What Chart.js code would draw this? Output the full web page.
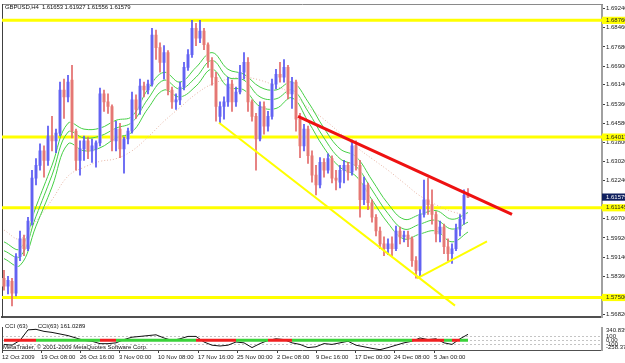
<!DOCTYPE html>
<html><head><meta charset="utf-8">
<script src="https://cdn.jsdelivr.net/npm/chart.js@4.4.1/dist/chart.umd.min.js"></script>
<style>
html,body{margin:0;padding:0;background:#fff;width:625px;height:363px;overflow:hidden;position:relative;font-family:"Liberation Sans",Arial,sans-serif}
#c1{position:absolute;left:0;top:0;width:625px;height:322px}
#c2{position:absolute;left:0;top:320px;width:625px;height:43px}
.t{position:absolute;font-size:6px;color:#111;white-space:nowrap;line-height:1}
</style></head><body>
<canvas id="c1" width="625" height="322"></canvas>
<canvas id="c2" width="625" height="43"></canvas>
<div class="t" style="left:5px;top:4px;letter-spacing:-0.1px">GBPUSD,H4&nbsp;&nbsp;1.61653 1.61927 1.61556 1.61579</div>
<div class="t" style="left:5px;top:323px">CCI (63)&nbsp;&nbsp;&nbsp;&nbsp;&nbsp;&nbsp;CCI(63) 161.0289</div>
<div class="t" style="left:3px;top:344px">MetaTrader, © 2001-2009 MetaQuotes Software Corp.</div>
<script>
// ---------- DATA ----------
const barOpen = [
1.5828,1.5796,1.5816,1.5768,1.5916,1.5988,1.5948,1.6060,1.6235,1.6287,
1.6346,1.6307,1.6406,1.6386,1.6418,1.6593,1.6565,1.6633,1.6426,1.6307,
1.6354,1.6386,1.6346,1.6354,1.6378,1.6577,1.6545,1.6526,1.6386,1.6434,
1.6354,1.6394,1.6426,1.6553,1.6514,1.6609,1.6593,1.6617,1.6816,1.6765,
1.6705,1.6745,1.6593,1.6545,1.6553,1.6605,1.6685,1.6737,1.6844,1.6804,
1.6832,1.6777,1.6713,1.6645,1.6486,1.6526,1.6545,1.6617,1.6545,1.6585,
1.6665,1.6705,1.6545,1.6486,1.6394,1.6526,1.6446,1.6486,1.6617,1.6657,
1.6645,1.6685,1.6577,1.6625,1.6474,1.6366,1.6434,1.6326,1.6247,1.6207,
1.6299,1.6267,1.6314,1.6235,1.6219,1.6267,1.6287,1.6259,1.6366,1.6287,
1.6147,1.6207,1.6135,1.6076,1.6020,1.5968,1.5948,1.5968,1.5948,1.6020,
1.5996,1.6004,1.5988,1.5900,1.5860,1.6087,1.6147,1.6127,1.6087,1.6008,
1.6036,1.5956,1.5928,1.5948,1.6028,1.6068,1.61653];
const barHigh = [
1.5860,1.5836,1.5828,1.5928,1.6020,1.6004,1.6076,1.6267,1.6314,1.6374,
1.6366,1.6446,1.6486,1.6434,1.6625,1.6637,1.6653,1.6693,1.6434,1.6386,
1.6406,1.6402,1.6394,1.6386,1.6601,1.6593,1.6577,1.6533,1.6466,1.6458,
1.6402,1.6438,1.6585,1.6573,1.6637,1.6625,1.6633,1.6844,1.6836,1.6785,
1.6773,1.6753,1.6605,1.6577,1.6625,1.6705,1.6757,1.6876,1.6864,1.6876,
1.6844,1.6785,1.6725,1.6665,1.6545,1.6565,1.6645,1.6633,1.6605,1.6693,
1.6745,1.6725,1.6553,1.6498,1.6545,1.6545,1.6506,1.6637,1.6677,1.6705,
1.6717,1.6693,1.6645,1.6633,1.6498,1.6454,1.6446,1.6346,1.6287,1.6318,
1.6314,1.6334,1.6326,1.6267,1.6287,1.6307,1.6299,1.6390,1.6386,1.6307,
1.6239,1.6215,1.6147,1.6087,1.6036,1.5996,1.5988,1.5996,1.6040,1.6036,
1.6020,1.6020,1.5996,1.5916,1.6107,1.6227,1.6235,1.6187,1.6099,1.6060,
1.6048,1.5988,1.5968,1.6048,1.6087,1.6187,1.61927];
const barLow = [
1.5780,1.5764,1.5716,1.5756,1.5900,1.5920,1.5940,1.6044,1.6207,1.6267,
1.6239,1.6287,1.6346,1.6338,1.6406,1.6478,1.6545,1.6398,1.6267,1.6247,
1.6307,1.6314,1.6299,1.6279,1.6366,1.6506,1.6498,1.6346,1.6346,1.6318,
1.6255,1.6374,1.6418,1.6478,1.6494,1.6565,1.6577,1.6609,1.6717,1.6665,
1.6637,1.6573,1.6518,1.6514,1.6533,1.6593,1.6673,1.6725,1.6773,1.6785,
1.6757,1.6685,1.6613,1.6466,1.6458,1.6474,1.6526,1.6506,1.6526,1.6577,
1.6637,1.6506,1.6466,1.6267,1.6386,1.6414,1.6426,1.6474,1.6597,1.6625,
1.6625,1.6557,1.6518,1.6426,1.6318,1.6346,1.6295,1.6219,1.6167,1.6195,
1.6239,1.6255,1.6215,1.6187,1.6195,1.6215,1.6227,1.6247,1.6267,1.6076,
1.6127,1.6107,1.6056,1.6000,1.5948,1.5920,1.5924,1.5920,1.5940,1.5968,
1.5976,1.5956,1.5876,1.5828,1.5836,1.6076,1.6087,1.6048,1.5976,1.5976,
1.5928,1.5900,1.5888,1.5940,1.6000,1.6048,1.61556];
const barClose = [
1.5796,1.5820,1.5768,1.5916,1.5988,1.5948,1.6060,1.6235,1.6287,1.6346,
1.6307,1.6406,1.6386,1.6418,1.6593,1.6565,1.6625,1.6426,1.6307,1.6354,
1.6386,1.6346,1.6366,1.6378,1.6577,1.6545,1.6526,1.6386,1.6434,1.6354,
1.6394,1.6426,1.6553,1.6514,1.6609,1.6593,1.6617,1.6816,1.6765,1.6705,
1.6745,1.6593,1.6545,1.6553,1.6605,1.6685,1.6737,1.6844,1.6804,1.6832,
1.6777,1.6713,1.6645,1.6526,1.6526,1.6545,1.6617,1.6545,1.6585,1.6665,
1.6705,1.6545,1.6486,1.6394,1.6526,1.6446,1.6486,1.6617,1.6657,1.6645,
1.6685,1.6577,1.6625,1.6474,1.6366,1.6434,1.6326,1.6247,1.6207,1.6299,
1.6267,1.6314,1.6235,1.6227,1.6267,1.6287,1.6259,1.6366,1.6287,1.6147,
1.6207,1.6135,1.6076,1.6020,1.5968,1.5948,1.5968,1.5948,1.6020,1.5996,
1.6004,1.5988,1.5900,1.5860,1.6087,1.6147,1.6127,1.6087,1.6008,1.6036,
1.5956,1.5928,1.5948,1.6028,1.6068,1.6165,1.61579];

// moving-average ribbon, read every 4th bar
const maBars = [0,4,8,12,16,20,24,28,32,36,40,44,48,52,56,60,64,68,72,76,80,84,88,92,96,100,104,108,112,116];
const maUpper = [1.5976,1.5948,1.6119,1.6287,1.6458,1.6434,1.6438,1.6470,1.6486,1.6597,1.6665,1.6625,1.6685,1.6745,1.6677,1.6657,1.6605,1.6593,1.6625,1.6545,1.6438,1.6354,1.6322,1.6227,1.6131,1.6068,1.6087,1.6103,1.6068,1.6095];
const maMiddle = [1.5940,1.5916,1.6080,1.6247,1.6422,1.6398,1.6406,1.6438,1.6462,1.6557,1.6633,1.6597,1.6645,1.6713,1.6645,1.6633,1.6565,1.6557,1.6593,1.6506,1.6398,1.6314,1.6283,1.6187,1.6091,1.6028,1.6048,1.6064,1.6028,1.6056];
const maLower = [1.5908,1.5880,1.6040,1.6199,1.6374,1.6346,1.6358,1.6398,1.6422,1.6518,1.6593,1.6565,1.6609,1.6677,1.6605,1.6593,1.6526,1.6518,1.6561,1.6466,1.6358,1.6279,1.6243,1.6147,1.6052,1.5988,1.6008,1.6020,1.5976,1.6016];
const maSlow = [1.6024,1.5988,1.6060,1.6147,1.6243,1.6279,1.6303,1.6314,1.6346,1.6402,1.6466,1.6522,1.6577,1.6617,1.6637,1.6645,1.6633,1.6609,1.6577,1.6522,1.6474,1.6418,1.6362,1.6314,1.6267,1.6215,1.6163,1.6127,1.6099,1.6084];

// horizontal levels and trend lines [barIndex, price]
const levelLines = [1.68760, 1.64017, 1.61145, 1.57500];
const currentPrice = 1.61579;
const redTrend = [[74.0, 1.6486], [127.5, 1.6088]];
const yellowTrendDown = [[54.25, 1.6460], [113.25, 1.5717]];
const yellowTrendUp = [[103.75, 1.5828], [121.25, 1.5978]];

// CCI subwindow, read every 2nd bar
const cciBars = [0,2,4,6,8,10,12,14,16,18,20,22,24,26,28,30,32,34,36,38,40,42,44,46,48,50,52,54,56,58,60,62,64,66,68,70,72,74,76,78,80,82,84,86,88,90,92,94,96,98,100,102,104,106,108,110,112,114,116];
const cciValues = [-109,-130,-2,280,295,240,212,170,127,63,-2,-24,-89,-89,-67,20,84,105,127,148,63,-2,41,105,105,-44,-130,-151,-130,-44,-67,-194,-87,-2,41,20,-67,-109,-194,-172,-87,-109,-67,-24,-130,-172,-215,-250,-194,-130,-67,-24,63,20,41,-67,-109,41,161.03];
const cciTrendSign = [-1,-1,-1,-1,1,1,1,1,1,1,1,1,-1,-1,1,1,1,1,1,1,1,1,1,1,-1,-1,-1,-1,-1,1,1,1,1,-1,-1,-1,1,1,1,1,1,1,1,1,1,1,1,1,1,1,1,-1,-1,-1,-1,1,-1,1,1];

// axis ticks / labels
const priceTicks = [1.69240,1.68460,1.67680,1.66900,1.66140,1.65360,1.64580,1.63800,1.63020,1.62240,1.60700,1.59920,1.59140,1.58360,1.56820];
const cciScaleMin = -258.377, cciScaleMax = 340.839;
const cciTickPos = [277, 100, 0, -100, -200];
const cciTickLabels = ["340.839", "100", "0.00", "-100", "-258.377"];
const timeTickPos = [0, 9.75, 19.5, 29.25, 39, 49, 58.75, 68.75, 78.5, 88.25, 98, 108];
const timeLabels = ["12 Oct 2009","19 Oct 08:00","26 Oct 16:00","3 Nov 00:00","10 Nov 08:00","17 Nov 16:00","25 Nov 00:00","2 Dec 08:00","9 Dec 16:00","17 Dec 00:00","24 Dec 08:00","5 Jan 00:00"];

// ---------- CHART ----------
const xMin = 0, xMax = 150;
const priceMin = 1.56691, priceMax = 1.69400;
const FONT = '"Liberation Sans", Arial, sans-serif';
Chart.defaults.font.family = FONT;
Chart.defaults.font.size = 6;

const bull = barClose.map((c, i) => c >= barOpen[i]);
const bodyData = barOpen.map((o, i) => ({x: i + 0.5, y: [o, barClose[i]]}));
const wickData = barLow.map((l, i) => ({x: i + 0.5, y: [l, barHigh[i]]}));
const hLine = v => [{x: xMin, y: v}, {x: xMax, y: v}];
const seg = pts => pts.map(p => ({x: p[0], y: p[1]}));
const maPts = arr => arr.map((v, i) => ({x: maBars[i] + 0.5, y: v}));
const lineBase = {type: 'line', pointRadius: 0, fill: false, xAxisID: 'x', yAxisID: 'y'};
const barBase = {type: 'bar', grouped: false, xAxisID: 'x', yAxisID: 'y'};

const allPriceTicks = priceTicks.concat(levelLines, [currentPrice]);
const isLevel = v => levelLines.some(l => Math.abs(l - v) < 1e-7);
const isCurrent = v => Math.abs(v - currentPrice) < 1e-7;

new Chart(document.getElementById('c1'), {
  type: 'bar',
  data: {datasets: [
    ...levelLines.map(v => Object.assign({}, lineBase, {data: hLine(v), borderColor: '#ffff00', borderWidth: 3, order: 20})),
    Object.assign({}, lineBase, {data: maPts(maSlow), borderColor: '#e6b4a4', borderWidth: 1, borderDash: [1, 2], tension: 0.4, order: 15}),
    Object.assign({}, lineBase, {data: maPts(maUpper), borderColor: '#45cf45', borderWidth: 1, tension: 0.4, order: 14}),
    Object.assign({}, lineBase, {data: maPts(maMiddle), borderColor: '#45cf45', borderWidth: 1, tension: 0.4, order: 13}),
    Object.assign({}, lineBase, {data: maPts(maLower), borderColor: '#45cf45', borderWidth: 1, tension: 0.4, order: 12}),
    Object.assign({}, barBase, {data: bodyData, backgroundColor: bull.map(b => b ? '#aaaaf5' : '#f2b6ac'), barThickness: 3, minBarLength: 1, order: 6}),
    Object.assign({}, barBase, {data: wickData, backgroundColor: bull.map(b => b ? '#5454f2' : '#e26a6a'), barThickness: 1, order: 5}),
    Object.assign({}, lineBase, {data: seg(yellowTrendDown), borderColor: '#ffff00', borderWidth: 2, order: 3}),
    Object.assign({}, lineBase, {data: seg(yellowTrendUp), borderColor: '#ffff00', borderWidth: 2, order: 2}),
    Object.assign({}, lineBase, {data: seg(redTrend), borderColor: '#ee1111', borderWidth: 3, order: 1})
  ]},
  options: {
    responsive: false, animation: false, devicePixelRatio: 1, events: [],
    layout: {padding: {top: 1, left: 0, right: 0, bottom: 0}},
    plugins: {legend: {display: false}, tooltip: {enabled: false}},
    scales: {
      x: {type: 'linear', min: xMin, max: xMax, offset: false, position: 'bottom',
          grid: {drawOnChartArea: false, drawTicks: false, offset: false},
          ticks: {display: false}, border: {color: '#505050', width: 2},
          afterFit: s => { s.height = 2; }},
      y: {type: 'linear', position: 'right', min: priceMin, max: priceMax,
          afterFit: s => { s.width = 23; },
          afterBuildTicks: s => { s.ticks = allPriceTicks.map(v => ({value: v})); },
          grid: {drawOnChartArea: false, drawTicks: true, tickLength: 3, tickColor: '#404040', tickWidth: 1},
          border: {color: '#a0a0a0', width: 2},
          ticks: {autoSkip: false, padding: 1, font: {size: 6},
            color: c => isCurrent(c.tick.value) ? '#ffffff' : '#222222',
            showLabelBackdrop: c => isLevel(c.tick.value) || isCurrent(c.tick.value),
            backdropColor: c => isCurrent(c.tick.value) ? '#10205e' : '#ffff00',
            backdropPadding: {top: 0, bottom: 0, left: 4, right: 8},
            callback: v => Number(v).toFixed(5)}},
      xTop: {type: 'linear', min: xMin, max: xMax, position: 'top',
          grid: {drawOnChartArea: false, drawTicks: false}, ticks: {display: false},
          border: {color: '#8a8a8a', width: 1}, afterFit: s => { s.height = 0; }},
      yL: {type: 'linear', position: 'left', grid: {drawOnChartArea: false, drawTicks: false},
          ticks: {display: false}, border: {color: '#404040', width: 1}, afterFit: s => { s.width = 2; }}
    }
  }
});

new Chart(document.getElementById('c2'), {
  type: 'line',
  data: {datasets: [
    {data: cciBars.map(b => ({x: b + 0.5, y: 0})), borderWidth: 3, pointRadius: 0, xAxisID: 'x', yAxisID: 'y',
     borderColor: '#30d030',
     segment: {borderColor: c => cciTrendSign[c.p0DataIndex] > 0 ? '#3ad23a' : '#f02020'}},
    {data: cciValues.map((v, i) => ({x: cciBars[i] + 0.5, y: v})), borderColor: '#111111', borderWidth: 1, pointRadius: 0, xAxisID: 'x', yAxisID: 'y'}
  ]},
  options: {
    responsive: false, animation: false, devicePixelRatio: 1, events: [],
    layout: {padding: {top: 2, left: 0, right: 0, bottom: 0}},
    plugins: {legend: {display: false}, tooltip: {enabled: false}},
    scales: {
      x: {type: 'linear', min: xMin, max: xMax, position: 'bottom',
          afterBuildTicks: s => { s.ticks = timeTickPos.map(v => ({value: v})); },
          ticks: {autoSkip: false, maxRotation: 0, minRotation: 0, align: 'start', padding: 1, font: {size: 6}, color: '#222222',
                  callback: (v, i) => timeLabels[i]},
          grid: {drawOnChartArea: false, drawTicks: true, tickLength: 3, tickColor: '#404040'},
          border: {color: '#505050', width: 1},
          afterFit: s => { s.height = 13; }},
      y: {type: 'linear', position: 'right', min: cciScaleMin, max: cciScaleMax,
          afterFit: s => { s.width = 23; },
          afterBuildTicks: s => { s.ticks = cciTickPos.map(v => ({value: v})); },
          grid: {drawOnChartArea: true, drawTicks: false,
                 color: c => (c.tick && [100, 0, -100].includes(c.tick.value)) ? '#c4c4c4' : 'rgba(0,0,0,0)'},
          border: {color: '#a0a0a0', width: 2, dash: [2, 2]},
          ticks: {autoSkip: false, padding: 4, font: {size: 6}, color: '#222222',
                  callback: (v, i) => cciTickLabels[i]}},
      yL: {type: 'linear', position: 'left', grid: {drawOnChartArea: false, drawTicks: false},
          ticks: {display: false}, border: {color: '#404040', width: 1}, afterFit: s => { s.width = 2; }}
    }
  }
});
</script>
</body></html>
